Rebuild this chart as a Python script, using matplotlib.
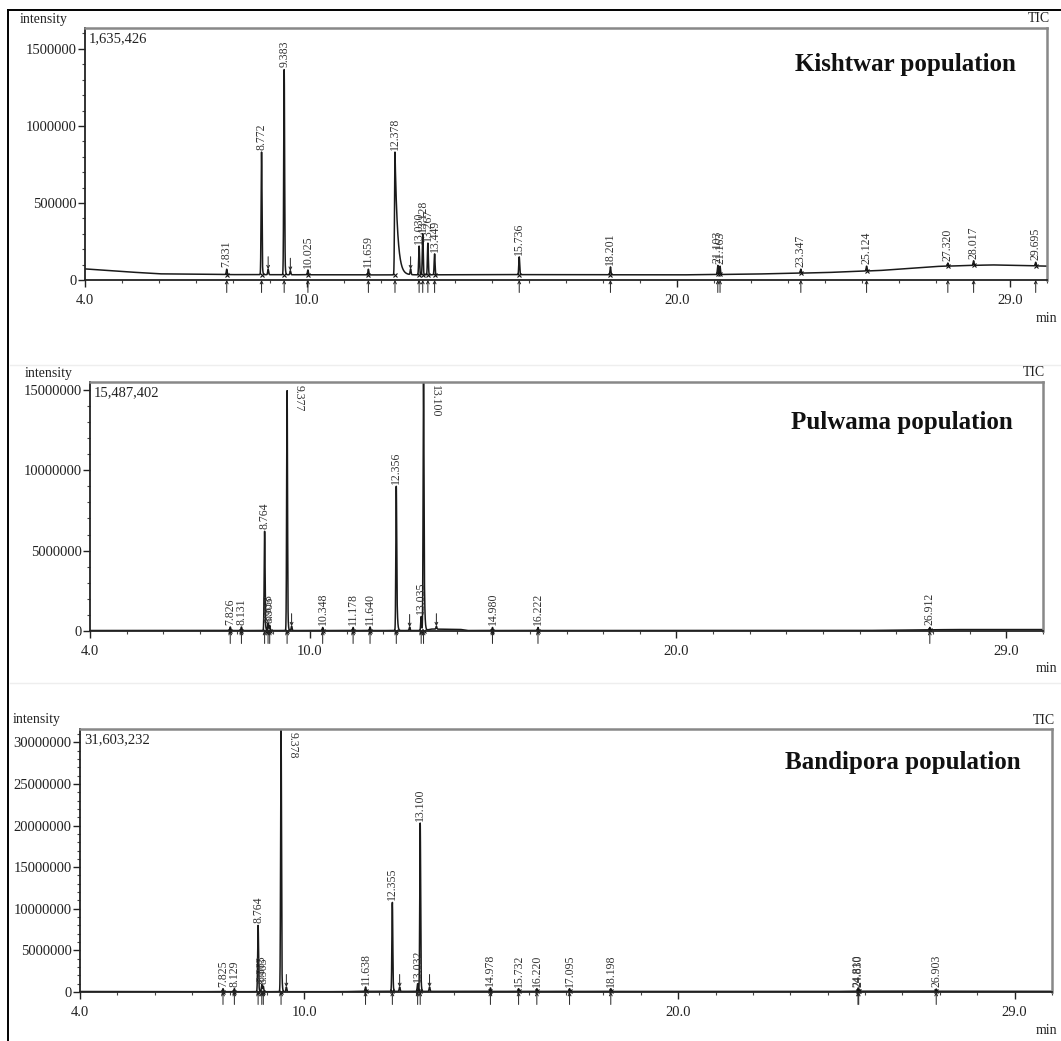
import numpy as np
import matplotlib
matplotlib.use('Agg')
import matplotlib.pyplot as plt
from matplotlib.lines import Line2D
from matplotlib.ticker import MultipleLocator, FixedLocator, FuncFormatter

# Times-like font, as in the GC-MS software output
plt.rcParams['font.family'] = 'Liberation Serif'

W, H = 1061, 1041

# ---- Kishtwar population (TIC) ----
k_times = [7.831, 8.772, 9.383, 10.025, 11.659, 12.378, 13.030, 13.128, 13.267, 13.449,
           15.736, 18.201, 21.103, 21.163, 23.347, 25.124, 27.320, 28.017, 29.695]
k_heights = [70000, 830000, 1370000, 65000, 70000, 830000, 220000, 300000, 240000, 170000,
             150000, 85000, 95000, 90000, 70000, 90000, 110000, 125000, 115000]
k_tails = [0, 0.01, 0.01, 0, 0, 0.07, 0, 0, 0, 0, 0, 0, 0, 0, 0, 0, 0, 0, 0]
k_minor_t = [8.95, 9.55, 12.80]
k_minor_h = [70000, 60000, 70000]
k_base_t = [4.0, 5.0, 6.0, 8.0, 12.0, 16.0, 20.0, 22.0, 24.0, 25.5, 27.0, 28.5, 30.0]
k_base_v = [72000, 55000, 40000, 35000, 33000, 35000, 33000, 38000, 48000, 62000, 88000, 98000, 90000]
k_max = 1635426

# ---- Pulwama population (TIC) ----
p_times = [7.826, 8.131, 8.764, 8.858, 8.903, 9.377, 10.348, 11.178, 11.640, 12.356,
           13.035, 13.100, 14.980, 16.222, 26.912]
p_heights = [250000, 250000, 6200000, 500000, 350000, 15000000, 220000, 220000, 250000, 9000000,
             900000, 15487402, 220000, 220000, 220000]
p_tails = [0, 0, 0.01, 0, 0, 0.01, 0, 0, 0, 0.015, 0, 0.015, 0, 0, 0]
p_minor_t = [9.50, 12.72, 13.45]
p_minor_h = [300000, 250000, 300000]
p_base_t = [4.0, 13.15, 13.3, 14.1, 14.3, 25.0, 26.5, 27.5, 30.0]
p_base_v = [30000, 30000, 120000, 100000, 30000, 30000, 60000, 90000, 90000]
p_max = 15487402

# ---- Bandipora population (TIC) ----
b_times = [7.825, 8.129, 8.764, 8.863, 8.903, 9.378, 11.638, 12.355, 13.032, 13.100,
           14.978, 15.732, 16.220, 17.095, 18.198, 24.810, 24.830, 26.903]
b_heights = [400000, 400000, 8000000, 900000, 700000, 31603232, 600000, 10800000, 1000000, 20300000,
             500000, 400000, 400000, 400000, 400000, 400000, 350000, 350000]
b_tails = [0, 0, 0.01, 0, 0, 0.01, 0, 0.01, 0, 0.01, 0, 0, 0, 0, 0, 0, 0, 0]
b_minor_t = [9.52, 12.55, 13.35]
b_minor_h = [600000, 600000, 600000]
b_base_t = [4.0, 6.0, 11.0, 11.5, 24.0, 25.0, 30.0]
b_base_v = [60000, 40000, 40000, 80000, 60000, 100000, 80000]
b_max = 31603232

titles = ['Kishtwar population', 'Pulwama population', 'Bandipora population']
max_texts = ['1,635,426', '15,487,402', '31,603,232']
y_major = [500000, 5000000, 5000000]
y_minor = [100000, 1000000, 1000000]
xtick_vals = [4, 10, 20, 29]
xtick_labels = ['4.0', '10.0', '20.0', '29.0']

# axes boxes in pixels: left, right, top, bottom
boxes = [(85, 1047, 28, 280), (90, 1043, 382, 631), (80, 1052, 729, 992)]
title_xy = [(905, 65), (902, 422), (903, 762)]
intensity_x = [20, 25, 13]
tic_x = [1050, 1045, 1055]
min_x = [1046, 1046, 1046]

panels = [
    (k_times, k_heights, k_tails, k_minor_t, k_minor_h, k_base_t, k_base_v, k_max),
    (p_times, p_heights, p_tails, p_minor_t, p_minor_h, p_base_t, p_base_v, p_max),
    (b_times, b_heights, b_tails, b_minor_t, b_minor_h, b_base_t, b_base_v, b_max),
]


def fx(x):
    return x / W


def fy(y):
    return 1 - y / H


def build_trace(t, base_t, base_v, pt, ph, tails):
    y = np.interp(t, base_t, base_v)
    for t0, h, tau in zip(pt, ph, tails):
        amp = h - np.interp(t0, base_t, base_v)
        g = np.exp(-0.5 * ((t - t0) / 0.012) ** 2)
        if tau > 0:
            g = np.where(t > t0, np.maximum(g, np.exp(-(t - t0) / tau)), g)
        y = y + amp * g
    return y


fig = plt.figure(figsize=(W / 100, H / 100), dpi=100)

# outer frame and faint separators
fig.add_artist(Line2D([fx(8), fx(8)], [fy(10), fy(H)], color='black', lw=1.4))
fig.add_artist(Line2D([fx(8), fx(W)], [fy(10), fy(10)], color='black', lw=1.4))
for ysep in [365, 683]:
    fig.add_artist(Line2D([fx(10), fx(W)], [fy(ysep), fy(ysep)], color='#eeeeee', lw=1))

t = np.arange(4.0, 30.0001, 0.002)

for i, (pt, ph, tails, mt, mh, bt, bv, ymax) in enumerate(panels):
    l, r, tp, bm = boxes[i]
    ax = fig.add_axes([fx(l), fy(bm), (r - l) / W, (bm - tp) / H])

    all_t = list(pt) + list(mt)
    all_h = list(ph) + list(mh)
    all_tau = list(tails) + [0] * len(mt)
    y = build_trace(t, bt, bv, all_t, all_h, all_tau)
    ax.plot(t, y, color='#1a1a1a', lw=1.1)

    ax.set_xlim(4.0, 30.0)
    ax.set_ylim(0, ymax)

    # baseline marks at each integrated peak
    base_at = np.interp(pt, bt, bv)
    ax.plot(pt, base_at, 'x', color='#111111', ms=3.5, mew=0.8, clip_on=False)

    for t0, h in zip(pt, ph):
        lab = '%.3f' % t0
        if h > 0.9 * ymax:
            ax.annotate(lab, xy=(t0, ymax), xytext=(4, -2), textcoords='offset points',
                        rotation=-90, ha='left', va='top', fontsize=8.5, color='#333333')
        else:
            ax.annotate(lab, xy=(t0, h), xytext=(0, 1.5), textcoords='offset points',
                        rotation=90, ha='center', va='bottom', fontsize=8.5, color='#333333')
        # integration marker under the axis
        ax.annotate('', xy=(t0, 0), xytext=(0, -9), textcoords='offset points',
                    arrowprops=dict(arrowstyle='->', lw=0.7, color='#222222',
                                    mutation_scale=5, shrinkA=0, shrinkB=0),
                    annotation_clip=False)

    for t0, h in zip(mt, mh):
        ax.annotate('', xy=(t0, h), xytext=(0, 9), textcoords='offset points',
                    arrowprops=dict(arrowstyle='->', lw=0.7, color='#222222',
                                    mutation_scale=5, shrinkA=0, shrinkB=0))

    # axes styling
    for side in ['left', 'bottom']:
        ax.spines[side].set_color('#222222')
        ax.spines[side].set_linewidth(1.3)
    for side in ['top', 'right']:
        ax.spines[side].set_color('#888888')
        ax.spines[side].set_linewidth(1.8)

    ax.yaxis.set_major_locator(MultipleLocator(y_major[i]))
    ax.yaxis.set_minor_locator(MultipleLocator(y_minor[i]))
    ax.yaxis.set_major_formatter(FuncFormatter(lambda v, p: '%d' % round(v)))
    ax.xaxis.set_major_locator(FixedLocator(xtick_vals))
    ax.set_xticklabels(xtick_labels)
    ax.xaxis.set_minor_locator(MultipleLocator(1))
    ax.tick_params(axis='both', which='major', direction='out', length=5, width=1,
                   labelsize=10.5, colors='#222222')
    ax.tick_params(axis='y', which='major', pad=1)
    ax.tick_params(axis='x', which='major', pad=5)
    ax.tick_params(axis='both', which='minor', direction='out', length=2.5, width=0.8,
                   colors='#444444')

    ax.text(0.004, 0.985, max_texts[i], transform=ax.transAxes, ha='left', va='top',
            fontsize=10.5, color='#222222')

    tx, ty = title_xy[i]
    fig.text(fx(tx), fy(ty), titles[i], ha='center', va='center', fontsize=18,
             fontweight='bold', color='#111111')
    fig.text(fx(intensity_x[i]), fy(tp - 9), 'intensity', ha='left', va='center',
             fontsize=10, color='#222222')
    fig.text(fx(tic_x[i]), fy(tp - 9), 'TIC', ha='right', va='center',
             fontsize=10, color='#222222')
    fig.text(fx(min_x[i]), fy(bm + 38), 'min', ha='center', va='center',
             fontsize=10, color='#222222')

fig.savefig('out.png', dpi=100)
